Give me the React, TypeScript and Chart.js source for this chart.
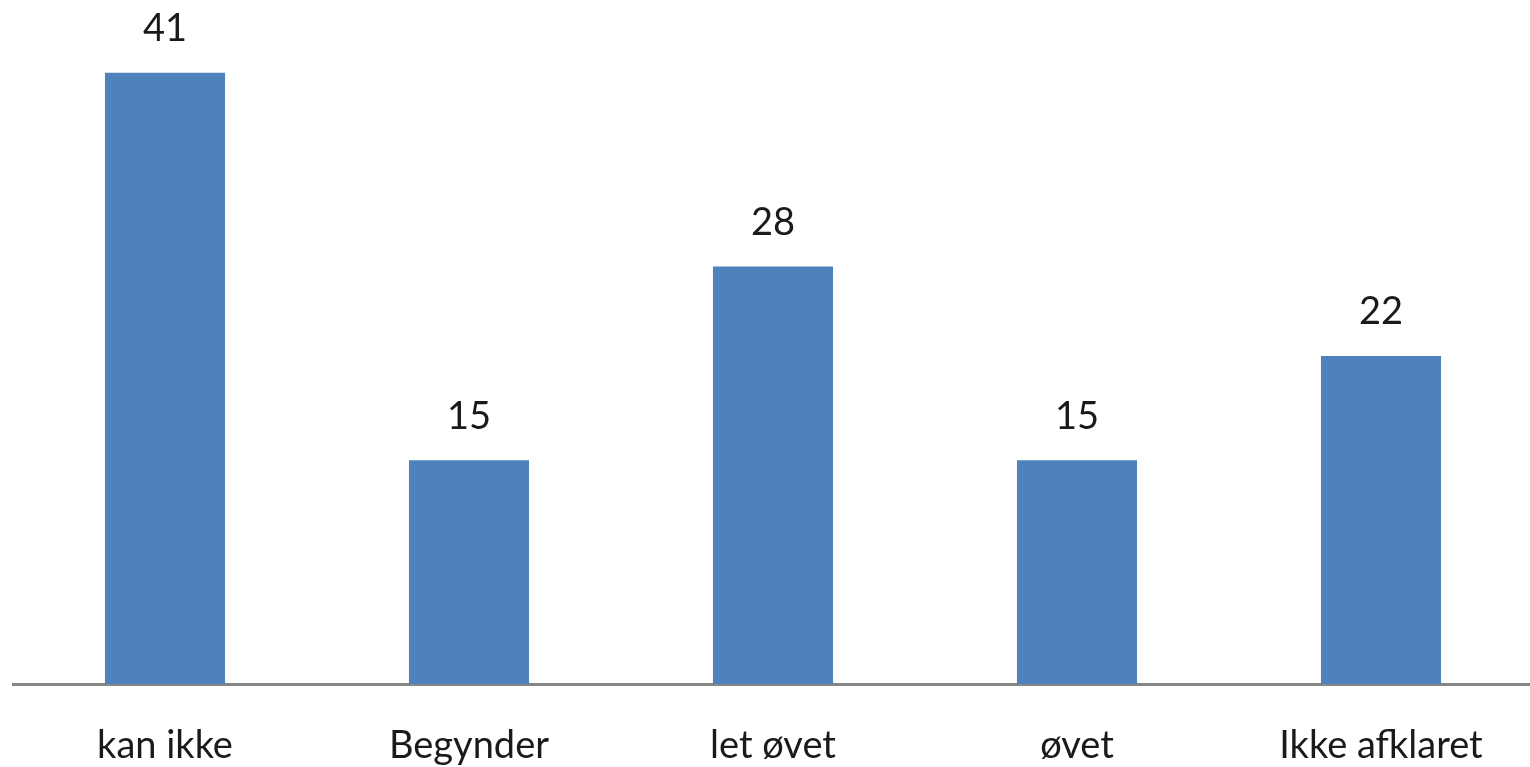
import React, { useEffect, useRef } from "react";
import { Chart, registerables } from "chart.js";

Chart.register(...registerables);

const categories = ["kan ikke", "Begynder", "let øvet", "øvet", "Ikke afklaret"];
const values = [41, 15, 28, 15, 22];

const FONT = "Lato";

const valueLabels = {
  id: "valueLabels",
  afterDatasetsDraw(chart: any) {
    const { ctx } = chart;
    const meta = chart.getDatasetMeta(0);
    ctx.save();
    ctx.fillStyle = "#1a1a1a";
    ctx.font = `38px ${FONT}`;
    ctx.textAlign = "center";
    ctx.textBaseline = "middle";
    meta.data.forEach((bar: any, i: number) => {
      ctx.fillText(String(values[i]), bar.x, bar.y - 44);
    });
    ctx.restore();
  },
};

export default function App() {
  const ref = useRef<HTMLCanvasElement | null>(null);
  useEffect(() => {
    document.body.style.margin = "0";
    const chart = new Chart(ref.current!, {
      type: "bar",
      data: {
        labels: categories,
        datasets: [
          {
            data: values,
            backgroundColor: "#4F81BD",
            categoryPercentage: 1,
            barPercentage: 0.395,
          },
        ],
      },
      options: {
        responsive: false,
        animation: false,
        layout: { padding: { left: 13, right: 0, top: 13, bottom: 0 } },
        plugins: { legend: { display: false }, tooltip: { enabled: false } },
        scales: {
          x: {
            grid: { display: false },
            border: { display: true, color: "#868686", width: 3 },
            ticks: {
              color: "#1a1a1a",
              font: { family: FONT, size: 38 },
              padding: 31,
              maxRotation: 0,
              autoSkip: false,
            },
            afterFit(scale: any) {
              scale.height = 83;
            },
          },
          y: {
            display: false,
            min: 0,
            max: 45,
          },
        },
      },
      plugins: [valueLabels],
    });
    return () => chart.destroy();
  }, []);
  return (
    <div style={{ width: 1530, height: 767, overflow: "hidden" }}>
      <canvas ref={ref} width={1533} height={767} style={{ display: "block" }} />
    </div>
  );
}
